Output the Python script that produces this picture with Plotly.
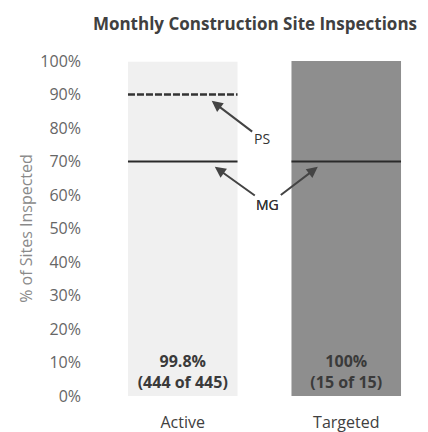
import plotly.graph_objects as go

categories = ["Active", "Targeted"]
pct_inspected = [99.8, 100]
counts_label = ["(444 of 445)", "(15 of 15)"]
pct_label = ["99.8%", "100%"]
ps_goal = [90, None]
mg_goal = [70, 70]
bar_colors = ["#f0f0f0", "#8e8e8e"]
y_ticks = [0, 10, 20, 30, 40, 50, 60, 70, 80, 90, 100]
y_ticktext = [f"{v}%" for v in y_ticks]

BW = 0.67
xs = list(range(len(categories)))

fig = go.Figure()
fig.add_trace(go.Bar(
    x=xs, y=pct_inspected, width=BW,
    marker=dict(color=bar_colors, line=dict(width=0)),
    text=[f"<b>{p}<br>{c}</b>" for p, c in zip(pct_label, counts_label)],
    textposition="inside", insidetextanchor="start",
    textfont=dict(family="Open Sans", size=16, color="#3a3a3a"),
    hoverinfo="skip", showlegend=False,
))

for i, v in enumerate(ps_goal):
    if v is not None:
        fig.add_trace(go.Scatter(
            x=[xs[i] - BW / 2, xs[i] + BW / 2], y=[v, v], mode="lines",
            line=dict(color="#333333", width=2.5, dash="7px,2px"),
            showlegend=False, hoverinfo="skip"))
for i, v in enumerate(mg_goal):
    if v is not None:
        fig.add_trace(go.Scatter(
            x=[xs[i] - BW / 2, xs[i] + BW / 2], y=[v, v], mode="lines",
            line=dict(color="#2a2a2a", width=2),
            showlegend=False, hoverinfo="skip"))

arrow_style = dict(showarrow=True, arrowhead=2, arrowsize=1.1, arrowwidth=2,
                   arrowcolor="#444444",
                   font=dict(family="Open Sans", size=14, color="#333333"))
fig.add_annotation(x=xs[0] + 0.177, y=ps_goal[0] - 1.9, text="PS", ax=50, ay=38, **arrow_style)
fig.add_annotation(x=xs[0] + 0.196, y=mg_goal[0] - 1.6, text="MG", ax=53, ay=38, **arrow_style)
fig.add_annotation(x=xs[1] - 0.174, y=mg_goal[1] - 1.6, text="MG", ax=-50, ay=38, **arrow_style)

fig.update_layout(
    width=420, height=424,
    margin=dict(l=93, r=0, t=53, b=36, autoexpand=False),
    paper_bgcolor="white", plot_bgcolor="white",
    title=dict(text="<b>Monthly Construction Site Inspections</b>",
               x=0.588, xanchor="center", y=0.963, yanchor="middle",
               font=dict(family="Open Sans", size=17, color="#404040")),
    xaxis=dict(range=[-0.5, 1.5], tickvals=xs, ticktext=categories,
               showgrid=False, zeroline=False, showline=False, ticks="",
               automargin=False,
               tickfont=dict(family="Open Sans", size=16, color="#404040"),
               ticklabelstandoff=15),
    yaxis=dict(range=[0, 100], tickvals=y_ticks, ticktext=y_ticktext,
               showgrid=False, zeroline=False, showline=False, ticks="",
               automargin=False,
               tickfont=dict(family="Open Sans", size=16, color="#666666"),
               ticklabelstandoff=19,
               title=dict(text="% of Sites Inspected", standoff=3,
                          font=dict(family="Open Sans", size=16, color="#8a8a8a"))),
)

fig.write_html("out.html")
